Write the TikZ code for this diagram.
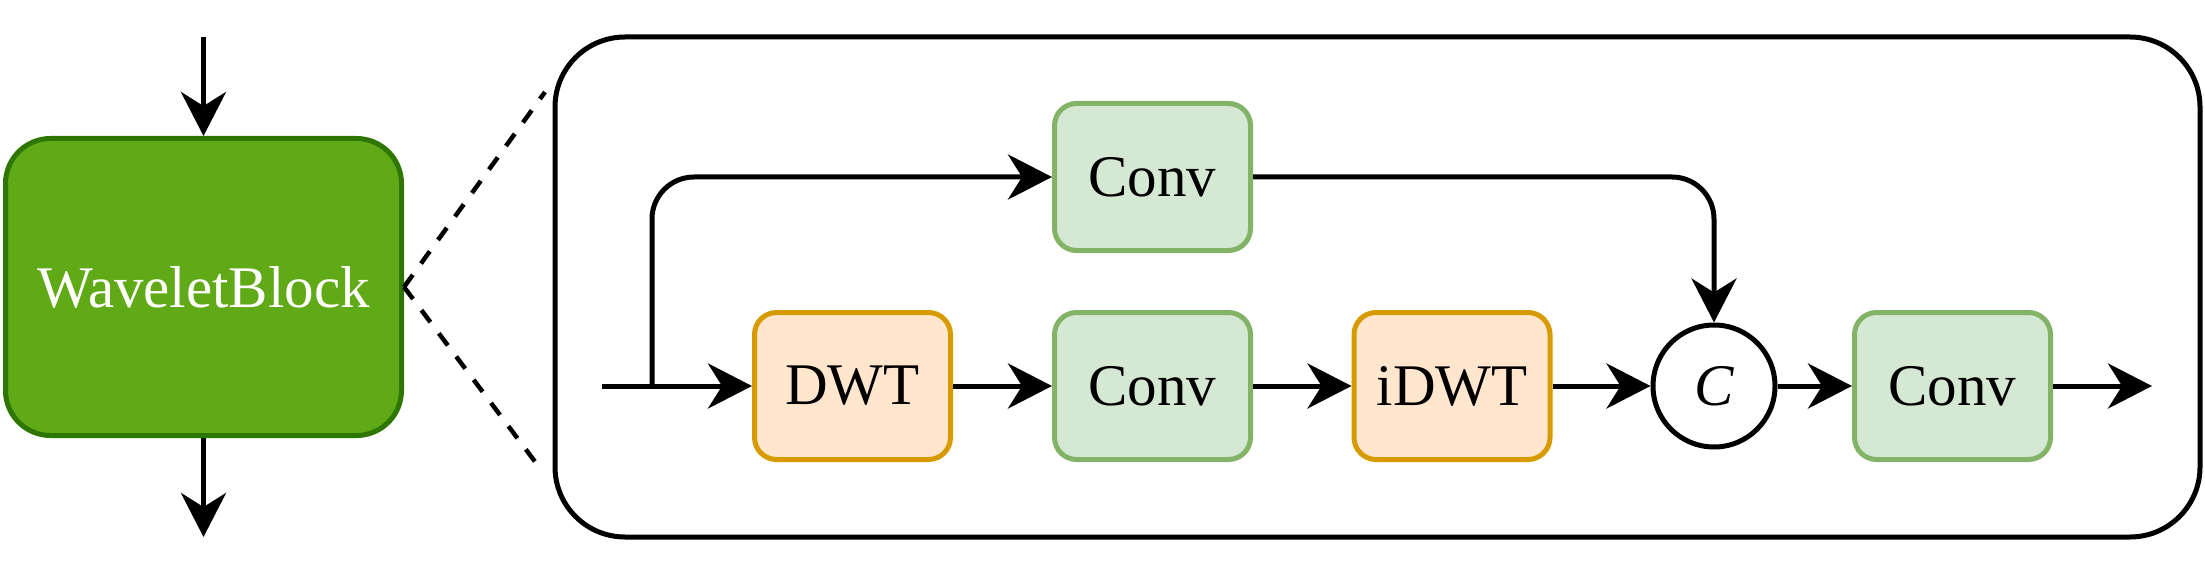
\documentclass[tikz,border=0pt]{standalone}
\usepackage{fontspec}
\setmainfont{Liberation Serif}
\usetikzlibrary{arrows.meta}
\definecolor{wbfill}{HTML}{60A917}
\definecolor{wbdraw}{HTML}{2D7600}
\definecolor{gfill}{HTML}{D5E8D4}
\definecolor{gdraw}{HTML}{82B366}
\definecolor{ofill}{HTML}{FFE6CC}
\definecolor{odraw}{HTML}{D79B00}
\begin{document}
\begin{tikzpicture}[x=1pt,y=-1pt,
  every node/.style={font=\fontsize{59}{70}\selectfont},
  arr/.style={line width=5pt,-{Stealth[length=44pt,width=45pt,inset=14pt]}},
  gbox/.style={draw=gdraw,fill=gfill,line width=5pt,rounded corners=22pt,minimum width=196pt,minimum height=147pt,inner sep=0pt},
  obox/.style={draw=odraw,fill=ofill,line width=5pt,rounded corners=22pt,minimum width=196pt,minimum height=147pt,inner sep=0pt},
  wbbox/.style={draw=wbdraw,fill=wbfill,line width=5pt,rounded corners=45pt,minimum width=396pt,minimum height=297pt,inner sep=0pt,text=white},
  zoomline/.style={line width=4.5pt,dash pattern=on 15pt off 14pt}
]
\useasboundingbox (0,0) rectangle (2205,580);

% left block
\node[wbbox] (wb) at (203.5,287) {WaveletBlock};
\coordinate (wbin) at (203.5,37);
\coordinate (wbout) at (203.5,537);
\draw[arr] (wbin) -- (wb.north);
\draw[arr] (wb.south) -- (wbout);

% outer container
\node[draw,line width=5pt,rounded corners=70pt,minimum width=1645pt,minimum height=500pt,inner sep=0pt] (outer) at (1377.5,287) {};

% zoom lines
\coordinate (zt) at (545,92);
\coordinate (zb) at (539,467);
\draw[zoomline] (wb.east) -- (zt);
\draw[zoomline] (wb.east) -- (zb);

% inner nodes
\node[gbox] (conv1) at (1152.5,177) {Conv};
\node[obox] (dwt) at (852.5,386) {DWT};
\node[gbox] (conv2) at (1152.5,386) {Conv};
\node[obox] (idwt) at (1452,386) {iDWT};
\node[circle,draw,fill=white,line width=5pt,minimum size=122pt,inner sep=0pt] (cat) at (1714,386) {\textit{C}};
\node[gbox] (conv3) at (1952.5,386) {Conv};

\coordinate (in) at (602,386);
\coordinate (br) at (652,386);
\coordinate (out) at (2152,386);

\draw[arr] (in) -- (dwt);
\draw[arr,rounded corners=42pt] (br) |- (conv1.west);
\draw[arr] (dwt) -- (conv2);
\draw[arr] (conv2) -- (idwt);
\draw[arr] (idwt) -- (cat);
\draw[arr,rounded corners=42pt] (conv1.east) -| (cat.north);
\draw[arr] (cat) -- (conv3);
\draw[arr] (conv3) -- (out);
\end{tikzpicture}
\end{document}
